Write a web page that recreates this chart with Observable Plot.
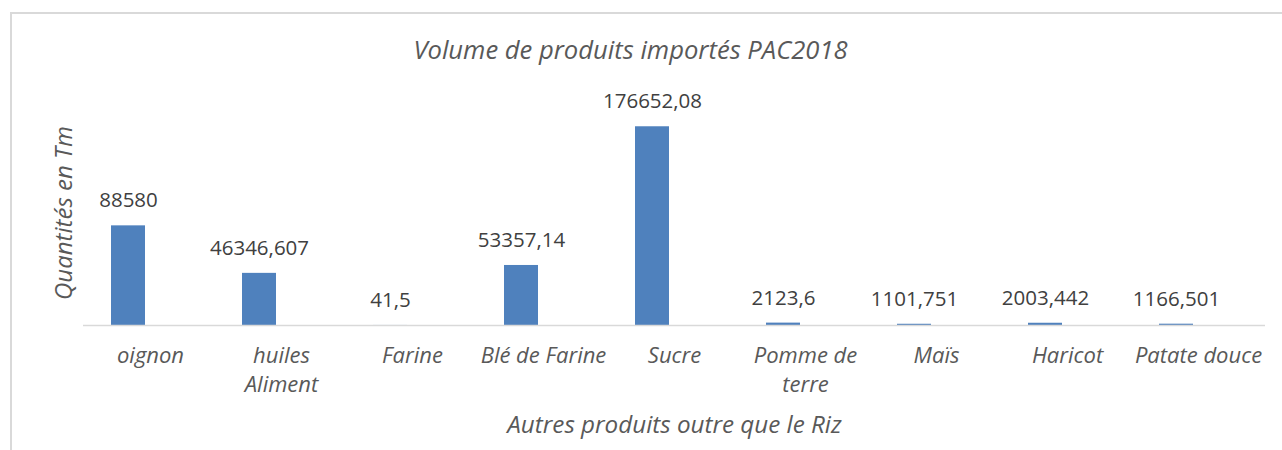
<!DOCTYPE html>
<html>
<head>
<meta charset="utf-8">
<script src="https://cdn.jsdelivr.net/npm/d3@7"></script>
<script src="https://cdn.jsdelivr.net/npm/@observablehq/plot@0.6"></script>
<style>
  html, body { margin: 0; padding: 0; background: #fff; overflow: hidden; }
  #wrap { position: relative; width: 1282px; height: 450px; }
  #border { position: absolute; left: 10px; top: 12px; width: 1300px; height: 500px;
            border-top: 2px solid #d9d9d9; border-left: 2px solid #d9d9d9; box-sizing: border-box; }
  #chart { position: absolute; left: 0; top: 0; }
</style>
</head>
<body>
<div id="wrap"><div id="border"></div><div id="chart"></div></div>
<script>
const categories = ["oignon", "huiles\nAliment", "Farine", "Blé de Farine", "Sucre", "Pomme de\nterre", "Maïs", "Haricot", "Patate douce"];
const values = [88580, 46346.607, 41.5, 53357.14, 176652.08, 2123.6, 1101.751, 2003.442, 1166.501];
const title = "Volume de produits importés PAC2018";
const xTitle = "Autres produits outre que le Riz";
const yTitle = "Quantités en Tm";

const data = categories.map((c, i) => ({ cat: c, value: values[i], label: String(values[i]).replace(".", ",") }));
const font = "'Open Sans', sans-serif";

const chart = Plot.plot({
  width: 1282,
  height: 450,
  marginLeft: 83,
  marginRight: 17,
  marginTop: 100,
  marginBottom: 125,
  style: { fontFamily: font, background: "transparent", overflow: "visible" },
  x: { domain: categories, paddingInner: 0.74, paddingOuter: 0.37, axis: null },
  y: { domain: [0, 200000], axis: null },
  marks: [
    Plot.barY(data, { x: "cat", y: "value", fill: "#4f81bd", dx: -22 }),
    Plot.ruleY([0], { stroke: "#d9d9d9", strokeWidth: 1.5 }),
    Plot.text(data, { x: "cat", y: "value", text: "label", dx: -22, dy: -25, fill: "#404040", fontSize: 20.5 }),
    Plot.axisX({ tickSize: 0, tickPadding: 17, fontSize: 22, fontStyle: "italic", fill: "#595959", lineHeight: 1.32, label: null }),
    Plot.text([title], { frameAnchor: "top", dx: -44, dy: -60, fontSize: 25.6, fontStyle: "italic", fill: "#595959" }),
    Plot.text([xTitle], { frameAnchor: "bottom", dy: 107, fontSize: 24.2, fontStyle: "italic", fill: "#595959" }),
    Plot.text([yTitle], { frameAnchor: "left", textAnchor: "middle", dx: -19, rotate: -90, fontSize: 24, fontStyle: "italic", fill: "#595959" })
  ]
});
document.getElementById("chart").appendChild(chart);
</script>
</body>
</html>
